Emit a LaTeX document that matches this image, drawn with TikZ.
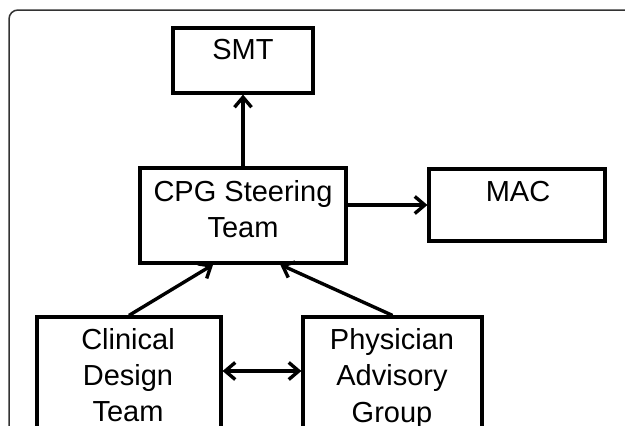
\documentclass[tikz,border=0pt]{standalone}
\usepackage{fontspec}
\setmainfont{Liberation Sans}
\usetikzlibrary{arrows.meta,calc}
\begin{document}
\begin{tikzpicture}[x=1pt,y=-1pt,
  box/.style={draw=black,line width=3.2pt,inner sep=0pt},
  lbl/.style={anchor=base,inner sep=0pt,font=\fontsize{29}{36.4}\selectfont},
  tipx/.tip={Straight Barb[length=10pt,width=17pt]},
  conn/.style={line width=3.4pt,-tipx},
  dbl/.style={line width=3.4pt,tipx-tipx},
  frame/.style={draw=black!80,line width=1.5pt,rounded corners=9pt}
]
\useasboundingbox (0,0) rectangle (625,426);
\begin{scope}
\clip (0,0) rectangle (625,426);
\draw[frame] (9,10) rectangle (660,470);

\node[box,minimum width=140pt,minimum height=65pt] (smt) at (243,60.5) {};
\node[box,minimum width=206pt,minimum height=95pt] (cpg) at (243,215.5) {};
\node[box,minimum width=176pt,minimum height=72pt] (mac) at (517,205) {};
\node[box,minimum width=184pt,minimum height=162pt] (clin) at (129,398) {};
\node[box,minimum width=179pt,minimum height=162pt] (phys) at (392.5,398) {};

\node[lbl] (smtT) at (243,59.3) {SMT};
\node[lbl] (macT) at (518,201.7) {MAC};
\node[lbl] (cpgT) at (243,201) {\begin{tabular}[t]{@{}c@{}}CPG Steering\\Team\end{tabular}};
\node[lbl] (clinT) at (128,349) {\begin{tabular}[t]{@{}c@{}}Clinical\\Design\\Team\end{tabular}};
\node[lbl] (physT) at (392,349.5) {\begin{tabular}[t]{@{}c@{}}Physician\\Advisory\\Group\end{tabular}};

\coordinate (cpgL) at ($(cpg.south west)!0.357!(cpg.south east)$);
\coordinate (cpgR) at ($(cpg.south west)!0.678!(cpg.south east)$);

\draw[conn] (cpg) -- (smt);
\draw[conn] (cpg.east |- mac.west) -- (mac.west);
\draw[conn] (clin.north) -- (cpgL);
\draw[conn] (phys.north) -- (cpgR);
\draw[dbl] ($(clin.east)+(0,-27)$) -- ($(phys.west)+(0,-27)$);
\end{scope}
\end{tikzpicture}
\end{document}
